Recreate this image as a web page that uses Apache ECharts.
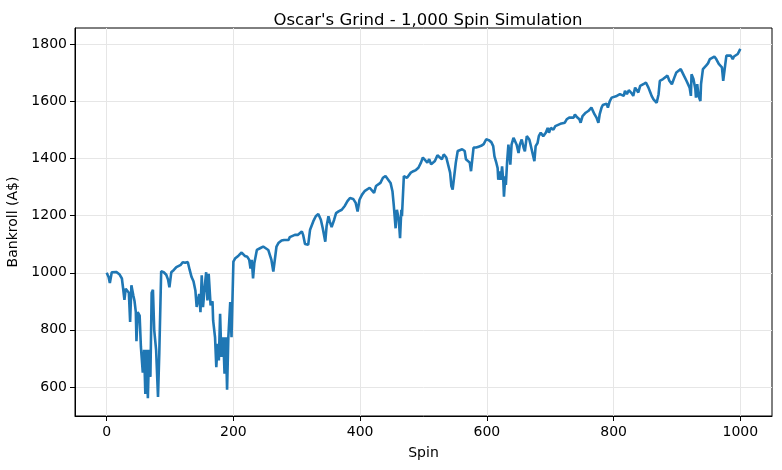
<!DOCTYPE html>
<html>
<head>
<meta charset="utf-8">
<script src="https://cdn.jsdelivr.net/npm/echarts@6/dist/echarts.min.js"></script>
<style>
  html, body { margin: 0; padding: 0; background: #fff; }
  #chart { width: 782px; height: 470px; }
</style>
</head>
<body>
<div id="chart"></div>
<script>
// spin numbers and bankroll
const spins = [
  0, 3, 5, 8, 11, 15, 20, 24, 26, 28, 30, 33, 35, 37, 39, 42, 44, 46, 47, 49,
  52, 54, 57, 59, 61, 63, 65, 67, 69, 71, 73, 75, 78, 81, 83, 86, 90, 94, 97, 99,
  102, 106, 110, 113, 117, 120, 124, 128, 131, 134, 137, 140, 142, 144, 146, 148, 150, 152, 155, 157,
  159, 161, 164, 167, 168, 171, 173, 175, 177, 179, 181, 184, 186, 188, 190, 192, 195, 197, 200, 203,
  208, 213, 218, 222, 225, 227, 229, 231, 233, 237, 242, 247, 251, 255, 258, 260, 263, 266, 268, 271,
  276, 280, 283, 287, 289, 292, 297, 302, 305, 308, 310, 313, 316, 318, 321, 326, 330, 334, 338, 341,
  345, 347, 350, 352, 355, 359, 362, 366, 371, 376, 380, 384, 389, 393, 396, 399, 403, 407, 410, 415,
  418, 422, 425, 428, 432, 436, 440, 444, 448, 451, 453, 456, 458, 461, 463, 465, 466, 469, 472, 474,
  477, 480, 484, 488, 492, 496, 499, 502, 506, 509, 512, 514, 518, 522, 525, 529, 532, 536, 539, 542,
  544, 546, 549, 551, 554, 557, 561, 565, 567, 570, 573, 575, 577, 579, 583, 587, 591, 595, 599, 603,
  607, 610, 612, 615, 617, 618, 620, 622, 624, 626, 627, 629, 630, 632, 634, 637, 639, 642, 644, 647,
  650, 652, 655, 658, 660, 663, 667, 669, 672, 675, 677, 680, 682, 685, 689, 693, 696, 698, 701, 705,
  708, 711, 716, 719, 723, 726, 730, 733, 737, 739, 742, 746, 748, 751, 753, 756, 760, 763, 765, 768,
  770, 773, 776, 778, 781, 783, 786, 789, 791, 794, 797, 800, 805, 810, 813, 816, 818, 821, 824, 826,
  829, 831, 834, 837, 839, 842, 845, 847, 851, 855, 858, 860, 863, 866, 868, 871, 873, 878, 881, 885,
  888, 892, 896, 899, 902, 906, 909, 911, 915, 917, 920, 922, 923, 926, 929, 930, 932, 934, 937, 938,
  941, 943, 946, 949, 952, 955, 959, 962, 964, 966, 968, 971, 973, 976, 978, 981, 985, 988, 990, 993,
  996, 1000
];
const bankroll = [
  1000, 985, 964, 1002, 1005, 1003, 995, 980, 944, 905, 944, 948, 930, 828, 956, 921, 900, 862, 760, 862,
  850, 740, 650, 730, 575, 730, 560, 730, 635, 930, 940, 800, 730, 565, 716, 1005, 1002, 993, 975, 949,
  1002, 1010, 1020, 1025, 1028, 1037, 1035, 1038, 1010, 985, 970, 938, 880, 874, 926, 862, 991, 880, 956, 1002,
  903, 996, 886, 900, 833, 774, 669, 751, 693, 856, 705, 774, 646, 774, 590, 774, 897, 774, 1039, 1051,
  1060, 1071, 1059, 1056, 1045, 1015, 1045, 980, 1033, 1080, 1086, 1092, 1086, 1080, 1086, 1045, 1004, 998, 1092, 1104,
  1113, 1115, 1121, 1115, 1125, 1121, 1133, 1133, 1139, 1145, 1133, 1101, 1104, 1098, 1151, 1180, 1198, 1206, 1186, 1156,
  1109, 1162, 1198, 1180, 1160, 1186, 1209, 1215, 1221, 1235, 1251, 1262, 1259, 1245, 1215, 1256, 1274, 1286, 1292, 1298,
  1301, 1280, 1304, 1309, 1315, 1333, 1339, 1327, 1315, 1286, 1239, 1156, 1221, 1186, 1121, 1221, 1198, 1339, 1345, 1333,
  1333, 1351, 1356, 1360, 1368, 1386, 1404, 1398, 1386, 1398, 1380, 1386, 1392, 1412, 1409, 1398, 1415, 1404, 1398, 1351,
  1304, 1292, 1298, 1386, 1427, 1421, 1433, 1427, 1398, 1392, 1386, 1356, 1351, 1439, 1439, 1442, 1445, 1451, 1468, 1465,
  1458, 1444, 1408, 1385, 1367, 1326, 1355, 1326, 1373, 1320, 1267, 1338, 1308, 1391, 1449, 1379, 1449, 1473, 1464, 1449,
  1420, 1449, 1467, 1438, 1426, 1479, 1467, 1449, 1455, 1391, 1444, 1455, 1479, 1491, 1479, 1491, 1508, 1491, 1508, 1502,
  1514, 1520, 1522, 1529, 1526, 1538, 1544, 1546, 1544, 1555, 1546, 1538, 1526, 1549, 1555, 1561, 1567, 1567, 1579, 1573,
  1555, 1544, 1526, 1555, 1579, 1588, 1585, 1593, 1579, 1602, 1614, 1610, 1620, 1626, 1632, 1620, 1638, 1626, 1640, 1644,
  1628, 1620, 1649, 1644, 1632, 1655, 1649, 1661, 1667, 1649, 1632, 1620, 1608, 1614, 1596, 1626, 1673, 1679, 1685, 1691,
  1673, 1661, 1685, 1702, 1708, 1714, 1708, 1691, 1673, 1679, 1649, 1620, 1696, 1679, 1644, 1614, 1661, 1620, 1602, 1661,
  1714, 1708, 1726, 1734, 1749, 1755, 1758, 1749, 1744, 1732, 1738, 1720, 1673, 1726, 1761, 1765, 1761, 1749, 1758, 1755,
  1767, 1785
];
const xTicks = [0, 200, 400, 600, 800, 1000];
const yTicks = [600, 800, 1000, 1200, 1400, 1600, 1800];

const myChart = echarts.init(document.getElementById('chart'), null, { renderer: 'canvas' });

let points = [];
for (let i = 0; i < spins.length; i++) {
  points.push([spins[i], bankroll[i]]);
}

const font = 'DejaVu Sans';

let option = {
  animation: false,
  backgroundColor: '#fff',
  title: {
    text: "Oscar's Grind - 1,000 Spin Simulation",
    left: 423,
    top: 7,
    textAlign: 'center',
    textStyle: { fontFamily: font, fontSize: 16.5, fontWeight: 'normal', color: '#000' }
  },
  grid: {
    left: 75,
    right: 10,
    top: 28,
    bottom: 54,
    show: true,
    borderColor: '#000',
    borderWidth: 1,
    containLabel: false,
    outerBoundsMode: 'none'
  },
  xAxis: {
    type: 'value',
    min: -50,
    max: 1050,
    name: 'Spin',
    nameLocation: 'middle',
    nameGap: 30,
    nameTextStyle: { fontFamily: font, fontSize: 14, color: '#000' },
    axisLine: { show: true, onZero: false, lineStyle: { color: '#000', width: 1 } },
    axisTick: { show: true, length: 5, lineStyle: { color: '#000' }, customValues: xTicks },
    axisLabel: {
      fontFamily: font, fontSize: 14, color: '#000', margin: 9, customValues: xTicks,
      formatter: function (v) { return String(v) }
    },
    splitLine: { show: true, lineStyle: { color: '#e6e6e6', width: 1 } }
  },
  yAxis: {
    type: 'value',
    min: 498,
    max: 1858,
    name: 'Bankroll (A$)',
    nameLocation: 'middle',
    nameGap: 54,
    nameTextStyle: { fontFamily: font, fontSize: 14, color: '#000' },
    axisLine: { show: true, onZero: false, lineStyle: { color: '#000', width: 1 } },
    axisTick: { show: true, length: 5, lineStyle: { color: '#000' }, customValues: yTicks },
    axisLabel: {
      fontFamily: font, fontSize: 14, color: '#000', margin: 8, customValues: yTicks,
      formatter: function (v) { return String(v) }
    },
    splitLine: { show: true, lineStyle: { color: '#e6e6e6', width: 1 } }
  },
  series: [{
    type: 'line',
    data: points,
    showSymbol: false,
    smooth: false,
    lineStyle: { color: '#1f77b4', width: 2.6 },
    itemStyle: { color: '#1f77b4' }
  }]
};
myChart.setOption(option);
</script>
</body>
</html>
